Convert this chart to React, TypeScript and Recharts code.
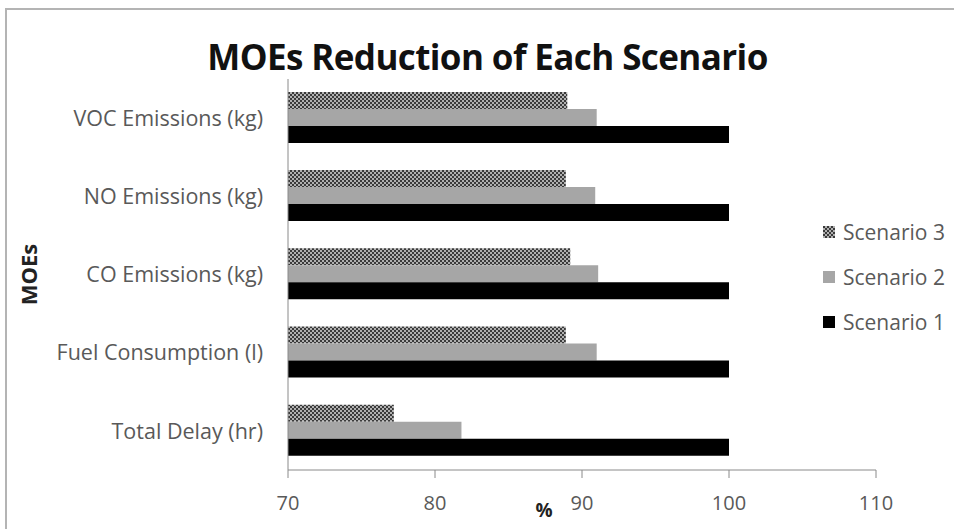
import React from 'react';
import { BarChart, Bar, XAxis, YAxis, Label } from 'recharts';

const categories = ['VOC Emissions (kg)', 'NO Emissions (kg)', 'CO Emissions (kg)', 'Fuel Consumption (l)', 'Total Delay (hr)'];
const scenario3 = [89.0, 88.9, 89.2, 88.9, 77.2];
const scenario2 = [91.0, 90.9, 91.1, 91.0, 81.8];
const scenario1 = [100, 100, 100, 100, 100];
const xTicks = [70, 80, 90, 100, 110];

const data = categories.map((c, i) => ({ name: c, s3: scenario3[i], s2: scenario2[i], s1: scenario1[i] }));

const legendItems = [
  { label: 'Scenario 3', fill: 'url(#hatch)' },
  { label: 'Scenario 2', fill: '#a6a6a6' },
  { label: 'Scenario 1', fill: '#000000' },
];

const FONT = '"Open Sans", Lato, sans-serif';

export default function App() {
  return (
    <div style={{ position: 'absolute', left: 0, top: 0, width: 954, height: 529, overflow: 'hidden', background: '#fff', fontFamily: FONT }}>
      <div style={{ position: 'absolute', left: 5, top: 8, width: 1000, height: 600, border: '2px solid #b4b4b4', boxSizing: 'border-box' }} />
      <div style={{ position: 'absolute', left: 0, top: 34, width: 975, textAlign: 'center', fontSize: 35, lineHeight: '46px', fontWeight: 700, color: '#111', letterSpacing: -0.6 }}>
        MOEs Reduction of Each Scenario
      </div>
      <BarChart
        width={954}
        height={529}
        data={data}
        layout="vertical"
        margin={{ top: 79, right: 78, bottom: 29, left: 0 }}
        barCategoryGap="16.5%"
        barGap={0}
        style={{ position: 'absolute', left: 0, top: 0 }}
      >
        <defs>
          <pattern id="hatch" patternUnits="userSpaceOnUse" width="4" height="4">
            <rect width="4" height="4" fill="#b0b0b0" />
            <rect x="0" y="0" width="2" height="2" fill="#3a3a3a" />
            <rect x="2" y="2" width="2" height="2" fill="#3a3a3a" />
          </pattern>
        </defs>
        <XAxis
          type="number"
          domain={[70, 110]}
          ticks={xTicks}
          stroke="#8a8a8a"
          tickSize={8}
          tickMargin={18}
          tick={{ fill: '#595959', fontSize: 20, fontFamily: FONT }}
        >
          <Label value="%" position="bottom" offset={4} style={{ fontWeight: 700, fontSize: 19, fill: '#222', fontFamily: FONT }} dx={-38} />
        </XAxis>
        <YAxis
          type="category"
          dataKey="name"
          width={288}
          stroke="#8a8a8a"
          tickLine={false}
          tickMargin={19}
          tick={{ fill: '#595959', fontSize: 21.5, fontFamily: FONT }}
        >
          <Label value="MOEs" angle={-90} position="insideLeft" offset={29} style={{ fontWeight: 700, fontSize: 22, fill: '#222', fontFamily: FONT, textAnchor: 'middle' }} />
        </YAxis>
        <Bar dataKey="s3" name="Scenario 3" fill="url(#hatch)" isAnimationActive={false} />
        <Bar dataKey="s2" name="Scenario 2" fill="#a6a6a6" isAnimationActive={false} />
        <Bar dataKey="s1" name="Scenario 1" fill="#000000" isAnimationActive={false} />
      </BarChart>
      <div style={{ position: 'absolute', left: 823, top: 209 }}>
        {legendItems.map((it, i) => (
          <div key={it.label} style={{ display: 'flex', alignItems: 'center', height: 45, fontSize: 21, color: '#595959' }}>
            <svg width={12} height={12} style={{ marginRight: 8 }}>
              <defs>
                <pattern id={`lh${i}`} patternUnits="userSpaceOnUse" width="4" height="4">
                  <rect width="4" height="4" fill="#b0b0b0" />
                  <rect x="0" y="0" width="2" height="2" fill="#3a3a3a" />
                  <rect x="2" y="2" width="2" height="2" fill="#3a3a3a" />
                </pattern>
              </defs>
              <rect width={12} height={12} fill={i === 0 ? `url(#lh${i})` : it.fill} />
            </svg>
            <span>{it.label}</span>
          </div>
        ))}
      </div>
    </div>
  );
}
